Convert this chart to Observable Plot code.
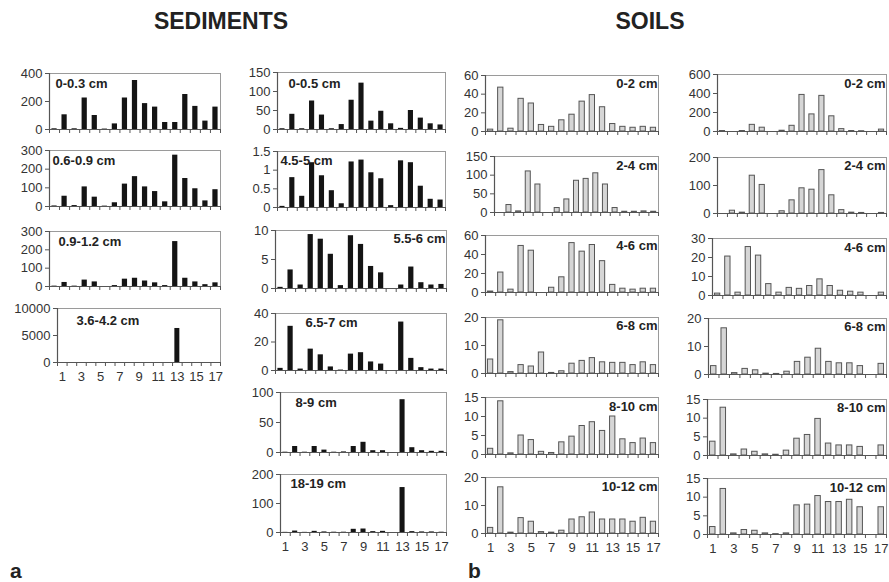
<!DOCTYPE html>
<html><head><meta charset="utf-8">
<script src="https://cdn.jsdelivr.net/npm/d3@7"></script>
<script src="https://cdn.jsdelivr.net/npm/@observablehq/plot@0.6"></script>
<style>
body{margin:0;background:#fff;}
#root{position:relative;width:889px;height:582px;overflow:hidden;font-family:"Liberation Sans",Arial,sans-serif;background:#fff;}
.title{position:absolute;font-weight:bold;font-size:23px;line-height:1;color:#222;transform:translateX(-50%);white-space:nowrap;}
.letter{position:absolute;font-weight:bold;font-size:21px;line-height:1;color:#222;}
.pl{position:absolute;}
</style></head><body><div id="root"></div>
<script>
// ---------- data ----------
const categories = d3.range(1, 18);               // 17 positions
const xTickLabels = [1, 3, 5, 7, 9, 11, 13, 15, 17];

// SEDIMENTS, column 1
const sed_0_03   = [5,105,5,225,100,3,40,225,350,185,160,50,50,250,165,60,160];
const sed_06_09  = [3,55,5,105,50,2,20,120,160,105,80,25,275,150,95,30,90];
const sed_09_12  = [2,22,2,35,25,0,5,40,45,30,20,5,245,45,25,10,20];
const sed_36_42  = [0,0,0,0,0,0,0,0,0,0,0,0,6300,0,0,0,0];
// SEDIMENTS, column 2
const sed_0_05   = [2,40,2,75,38,2,13,77,122,22,48,15,3,50,30,15,12];
const sed_45_5   = [0.03,0.8,0.3,1.2,0.85,0.45,0.1,1.22,1.27,0.93,0.77,0.05,1.25,1.2,0.57,0.22,0.2];
const sed_55_6   = [0.2,3.2,0.6,9.3,8.5,5.9,0.5,9.1,7.6,3.8,2.7,0,0.6,3.7,1.0,0.6,0.7];
const sed_65_7   = [1.5,31,1,15,11,2.5,0.3,11.5,12.5,6,4.5,0,34,8.5,2,1,1];
const sed_8_9    = [0.5,10,0.5,10,4,0.5,1,10,17,3,3,0,88,8,3,2,2];
const sed_18_19  = [0.5,5,0.5,4,2,1,1,11,12,3,4,0,155,3,2,2,1];
// SOILS, column 3
const soilA_0_2   = [2,47,3,35,30,7,5,12,18,32,39,26,8,5,4,5,4];
const soilA_2_4   = [0,20,3,110,75,0,12,35,85,90,105,75,12,2,2,3,2];
const soilA_4_6   = [1,21,3,49,44,0,5,16,52,43,50,33,8,4,3,4,4];
const soilA_6_8   = [5,19,0.5,3,2.5,7.5,0.2,0.8,3.5,4.5,5.5,4,3.8,3.8,3,4,3];
const soilA_8_10  = [1.5,14,0.3,5,3.8,0.7,0.4,3.2,4.7,7.5,8.5,6.2,10,4,3,4.2,3];
const soilA_10_12 = [2,16.5,0.3,5.5,4.2,0.5,0.3,1,5,5.8,7.5,5,5,5,4.2,5.6,4.2];
// SOILS, column 4
const soilB_0_2   = [5,0,5,70,40,0,8,60,385,180,375,160,25,5,3,0,20];
const soilB_2_4   = [0,10,3,135,102,0,8,47,90,85,155,65,12,3,2,0,2];
const soilB_4_6   = [1,20.5,1.5,25.5,21,6,1.5,4,3.5,5,8.5,5,2.5,2,1.5,0,1.5];
const soilB_6_8   = [3,16.5,0.5,2,1.5,0.3,0.2,1,4.5,6,9.2,4.5,4,4,3,0,3.8];
const soilB_8_10  = [3.7,12.8,0.3,1.6,1,0.3,0.2,1.3,4.5,5.5,9.8,3.2,2.7,2.7,2.3,0,2.7];
const soilB_10_12 = [2,12.2,0.3,1.2,1,0.3,0.1,0.3,7.8,8,10.3,8.7,8.7,9.3,7.3,0,7.3];

// y tick labels per panel
const ticks400 = [0,200,400], ticks300 = [0,100,200,300], ticks10000 = [0,5000,10000];
const ticks150 = [0,50,100,150], ticks15d = [0,0.5,1,1.5], ticks10 = [0,5,10], ticks40 = [0,20,40];
const ticks100 = [0,50,100], ticks200 = [0,100,200], ticks60 = [0,20,40,60], ticks20 = [0,10,20];
const ticks15 = [0,5,10,15], ticks600 = [0,200,400,600], ticks30 = [0,10,20,30];

// ---------- layout (positions/styles only) ----------
const panels = [
  // column 1
  {label:"0-0.3 cm",   values:sed_0_03,  ticks:ticks400,   kind:"sed", L:49,  R:220, T:73,  B:129, anchor:"left",  dx:6,  dy:5},
  {label:"0.6-0.9 cm", values:sed_06_09, ticks:ticks300,   kind:"sed", L:49,  R:220, T:150, B:206, anchor:"left",  dx:3,  dy:5},
  {label:"0.9-1.2 cm", values:sed_09_12, ticks:ticks300,   kind:"sed", L:49,  R:220, T:231, B:286, anchor:"left",  dx:9,  dy:5},
  {label:"3.6-4.2 cm", values:sed_36_42, ticks:ticks10000, kind:"sed", L:57,  R:220, T:308, B:362, anchor:"left",  dx:19, dy:7, showX:true},
  // column 2
  {label:"0-0.5 cm",   values:sed_0_05,  ticks:ticks150,   kind:"sed", L:277, R:445, T:72,  B:129, anchor:"left",  dx:11, dy:6},
  {label:"4.5-5 cm",   values:sed_45_5,  ticks:ticks15d,   kind:"sed", L:277, R:445, T:151, B:207, anchor:"left",  dx:3,  dy:4},
  {label:"5.5-6 cm",   values:sed_55_6,  ticks:ticks10,    kind:"sed", L:275, R:446, T:230, B:288, anchor:"right", dx:-1, dy:3},
  {label:"6.5-7 cm",   values:sed_65_7,  ticks:ticks40,    kind:"sed", L:275, R:446, T:313, B:370, anchor:"left",  dx:30, dy:4},
  {label:"8-9 cm",     values:sed_8_9,   ticks:ticks100,   kind:"sed", L:280, R:446, T:392, B:452, anchor:"left",  dx:15, dy:5},
  {label:"18-19 cm",   values:sed_18_19, ticks:ticks200,   kind:"sed", L:280, R:446, T:474, B:532, anchor:"left",  dx:10, dy:4, showX:true},
  // column 3
  {label:"0-2 cm",   values:soilA_0_2,   ticks:ticks60,  kind:"soil", L:485, R:658, T:75,  B:131, anchor:"right", dx:-1, dy:3},
  {label:"2-4 cm",   values:soilA_2_4,   ticks:ticks150, kind:"soil", L:494, R:658, T:156, B:212, anchor:"right", dx:-1, dy:4},
  {label:"4-6 cm",   values:soilA_4_6,   ticks:ticks60,  kind:"soil", L:485, R:658, T:235, B:292, anchor:"right", dx:-1, dy:5},
  {label:"6-8 cm",   values:soilA_6_8,   ticks:ticks20,  kind:"soil", L:485, R:658, T:317, B:373, anchor:"right", dx:-1, dy:3},
  {label:"8-10 cm",  values:soilA_8_10,  ticks:ticks15,  kind:"soil", L:485, R:658, T:397, B:454, anchor:"right", dx:-1, dy:4},
  {label:"10-12 cm", values:soilA_10_12, ticks:ticks20,  kind:"soil", L:485, R:658, T:477, B:533, anchor:"right", dx:-1, dy:4, showX:true},
  // column 4
  {label:"0-2 cm",   values:soilB_0_2,   ticks:ticks600, kind:"soil", L:717, R:886, T:74,  B:131, anchor:"right", dx:-1, dy:4},
  {label:"2-4 cm",   values:soilB_2_4,   ticks:ticks200, kind:"soil", L:717, R:886, T:157, B:213, anchor:"right", dx:-1, dy:3},
  {label:"4-6 cm",   values:soilB_4_6,   ticks:ticks30,  kind:"soil", L:712, R:886, T:238, B:295, anchor:"right", dx:-1, dy:4},
  {label:"6-8 cm",   values:soilB_6_8,   ticks:ticks20,  kind:"soil", L:708, R:886, T:318, B:374, anchor:"right", dx:-1, dy:3},
  {label:"8-10 cm",  values:soilB_8_10,  ticks:ticks15,  kind:"soil", L:707, R:886, T:399, B:455, anchor:"right", dx:-1, dy:3},
  {label:"10-12 cm", values:soilB_10_12, ticks:ticks15,  kind:"soil", L:707, R:886, T:478, B:534, anchor:"right", dx:-1, dy:4, showX:true}
];

const root = document.getElementById("root");
const FONT = '"Liberation Sans", Arial, sans-serif';

function addDiv(cls, text, left, top){
  const d = document.createElement("div");
  d.className = cls; d.textContent = text;
  d.style.left = left + "px"; d.style.top = top + "px";
  root.appendChild(d);
}
addDiv("title", "SEDIMENTS", 221, 10);
addDiv("title", "SOILS", 650, 10);
addDiv("letter", "a", 10, 560);
addDiv("letter", "b", 468, 560);

const ML = 48, MR = 4, MT = 8, MB = 24;
for (const p of panels) {
  const data = categories.map((c, k) => ({c, v: p.values[k]})).filter(d => d.v > 0);
  const ymax = p.ticks[p.ticks.length - 1];
  const sed = p.kind === "sed";
  const chart = Plot.plot({
    width: ML + (p.R - p.L) + MR,
    height: MT + (p.B - p.T) + MB,
    marginLeft: ML, marginRight: MR, marginTop: MT, marginBottom: MB,
    style: {fontFamily: FONT, fontSize: "13px", color: "#333", background: "transparent", overflow: "visible"},
    x: {domain: [0.5, 17.5]},
    y: {domain: [0, ymax]},
    marks: [
      Plot.frame({stroke: "#9a9a9a"}),
      Plot.rectY(data, {
        x1: d => d.c - 0.26, x2: d => d.c + 0.26, y: "v",
        fill: sed ? "#141414" : "#d6d6d6",
        stroke: sed ? "#141414" : "#555",
        strokeWidth: sed ? 0 : 1
      }),
      Plot.ruleY([0], {stroke: "#555", strokeWidth: 1.2}),
      Plot.ruleX([0.5], {stroke: "#555", strokeWidth: 1.2}),
      Plot.axisY({ticks: p.ticks, tickSize: 4, tickPadding: 3, tickFormat: d => String(d), label: null, fontSize: 13, stroke: "#555"}),
      Plot.axisX({ticks: d3.range(0.5, 18, 1), tickSize: 4, tickFormat: () => "", label: null, stroke: "#555"}),
      p.showX ? Plot.axisX({ticks: xTickLabels, tickSize: 0, tickPadding: 9, label: null, fontSize: 13}) : null,
      Plot.text([p.label], {
        frameAnchor: p.anchor === "right" ? "top-right" : "top-left",
        dx: p.dx, dy: p.dy, fontWeight: "bold", fontSize: 13, fill: "#222"
      })
    ]
  });
  chart.classList.add("pl");
  chart.style.left = (p.L - ML) + "px";
  chart.style.top = (p.T - MT) + "px";
  root.appendChild(chart);
}
</script>
</body></html>
